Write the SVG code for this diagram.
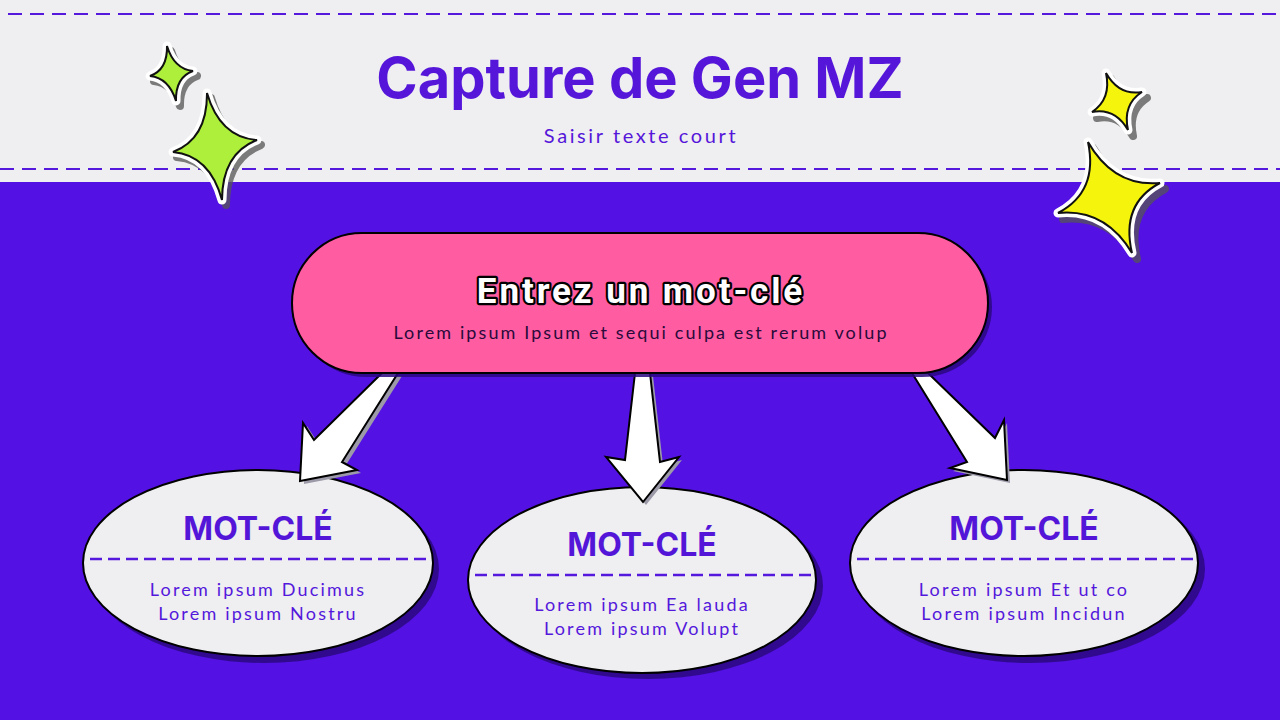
<svg xmlns="http://www.w3.org/2000/svg" width="1280" height="720" viewBox="0 0 1280 720">
  <style>
    .dash { stroke: #5519DD; stroke-width: 2; stroke-dasharray: 14 8; fill: none; }
    .dash2 { stroke: #5519DD; stroke-width: 2.5; stroke-dasharray: 12 6; fill: none; }
    .title { font-family: Inter, "Liberation Sans", sans-serif; font-weight: 700; fill: #5516DA; text-anchor: middle; }
    .sub { font-family: Lato, "Open Sans", sans-serif; fill: #5516DA; text-anchor: middle; letter-spacing: 2.6px; }
    .key { font-family: Inter, "Liberation Sans", sans-serif; font-weight: 700; font-size: 32px; fill: #5316D8; text-anchor: middle; }
    .body { font-family: Lato, "Open Sans", sans-serif; font-size: 18px; fill: #5418DC; text-anchor: middle; letter-spacing: 2.2px; }
    .ell { fill: #EFEEF0; stroke: #000; stroke-width: 2; }
    .shadow { fill: #2A0880; opacity: 0.85; }
    .arrow { fill: #FFFFFF; stroke: #000; stroke-width: 2; stroke-linejoin: miter; }
    .arrowsh { fill: #9C9AA8; }
    .starsh { fill: #555; stroke: #555; stroke-width: 8; stroke-linejoin: round; opacity: 0.75; }
    .starw { fill: #fff; stroke: #fff; stroke-width: 9; stroke-linejoin: round; }
    .green { fill: #ADEF3A; stroke: #111; stroke-width: 2; }
    .yellow { fill: #F4F40C; stroke: #111; stroke-width: 2; }
  </style>
  <defs>
    <path id="s1" d="M167,46 Q174.05,69 193,71 Q175.4,77.25 176,101 Q168.95,78 150,76 Q167.6,69.75 167,46Z"/>
    <path id="s2" d="M207,93 Q219.9,137.3 257,140 Q222.2,153.4 222,200 Q209.6,155.2 173,152 Q207.3,139.1 207,93Z"/>
    <path id="s3" d="M1106,73 Q1119.1,95.98 1142,92 Q1122.4,104.5 1128,130 Q1114.9,107.5 1092,112 Q1111.6,99 1106,73Z"/>
    <path id="s4" d="M1088,142 Q1113.85,187.2 1160,183 Q1120.45,203.8 1132,253 Q1105.15,208.3 1058,213 Q1098.55,191.7 1088,142Z"/>
  </defs>

  <!-- background -->
  <rect x="0" y="0" width="1280" height="720" fill="#5311E3"/>
  <rect x="0" y="0" width="1280" height="182" fill="#EFEEF0"/>
  <line class="dash" x1="8" y1="14" x2="1280" y2="14"/>
  <line class="dash" x1="0" y1="169" x2="1280" y2="169"/>

  <g id="title">
    <text class="title" x="640" y="98" font-size="56">Capture de Gen MZ</text>
    <text class="sub" x="641" y="143" font-size="20">Saisir texte court</text>
  </g>

  <g id="sparkles">
    <use href="#s1" class="starsh" transform="translate(4,5)"/>
    <use href="#s1" class="starw"/>
    <use href="#s1" class="green"/>
    <use href="#s2" class="starsh" transform="translate(4,5)"/>
    <use href="#s2" class="starw"/>
    <use href="#s2" class="green"/>
    <use href="#s3" class="starsh" transform="translate(5,6)"/>
    <use href="#s3" class="starw"/>
    <use href="#s3" class="yellow"/>
    <use href="#s4" class="starsh" transform="translate(5,6)"/>
    <use href="#s4" class="starw"/>
    <use href="#s4" class="yellow"/>
  </g>

  <g id="node-left">
    <ellipse class="shadow" cx="264" cy="569" rx="175" ry="94"/>
    <ellipse class="ell" cx="258" cy="563" rx="175" ry="93"/>
    <text class="key" x="258" y="540">MOT-CLÉ</text>
    <line class="dash2" x1="90" y1="559" x2="428" y2="559"/>
    <text class="body" x="258" y="596">Lorem ipsum Ducimus</text>
    <text class="body" x="258" y="620">Lorem ipsum Nostru</text>
  </g>

  <g id="node-middle">
    <ellipse class="shadow" cx="648" cy="586" rx="175" ry="93"/>
    <ellipse class="ell" cx="642" cy="580" rx="174" ry="93"/>
    <text class="key" x="642" y="556">MOT-CLÉ</text>
    <line class="dash2" x1="475" y1="575" x2="811" y2="575"/>
    <text class="body" x="642" y="611">Lorem ipsum Ea lauda</text>
    <text class="body" x="642" y="635">Lorem ipsum Volupt</text>
  </g>

  <g id="node-right">
    <ellipse class="shadow" cx="1030" cy="569" rx="175" ry="94"/>
    <ellipse class="ell" cx="1024" cy="563" rx="174" ry="93"/>
    <text class="key" x="1024" y="540">MOT-CLÉ</text>
    <line class="dash2" x1="857" y1="559" x2="1193" y2="559"/>
    <text class="body" x="1024" y="596">Lorem ipsum Et ut co</text>
    <text class="body" x="1024" y="620">Lorem ipsum Incidun</text>
  </g>

  <g id="connectors">
    <polygon class="arrowsh" points="386,376 318,443 307,426 304,484 361,473 346,465 402,376"/>
    <polygon class="arrow" points="382,373 314,440 303,423 300,481 357,470 342,462 398,373"/>
    <polygon class="arrowsh" points="638,376 628,463 609,460 646,505 682,460 663,465 653,376"/>
    <polygon class="arrow" points="635,373 625,460 606,457 643,502 679,457 660,462 650,373"/>
    <polygon class="arrowsh" points="915,376 970,465 953,471 1010,483 1007,423 998,441 931,376"/>
    <polygon class="arrow" points="912,373 967,462 950,468 1007,480 1004,420 995,438 928,373"/>
  </g>

  <g id="node-top">
    <rect class="shadow" x="296" y="237" width="696" height="140" rx="70"/>
    <rect x="292" y="233" width="696" height="140" rx="70" fill="#FF5CA2" stroke="#000" stroke-width="2"/>
    <text x="641" y="303" font-family="Roboto, 'Liberation Sans', sans-serif" font-weight="700" font-size="35" letter-spacing="2.9" fill="#fff" stroke="#000" stroke-width="4.5" paint-order="stroke" stroke-linejoin="round" text-anchor="middle">Entrez un mot-clé</text>
    <text x="641" y="339" font-family="Lato, 'Open Sans', sans-serif" font-size="18" letter-spacing="2.1" fill="#2A0A3A" text-anchor="middle">Lorem ipsum Ipsum et sequi culpa est rerum volup</text>
  </g>
</svg>
